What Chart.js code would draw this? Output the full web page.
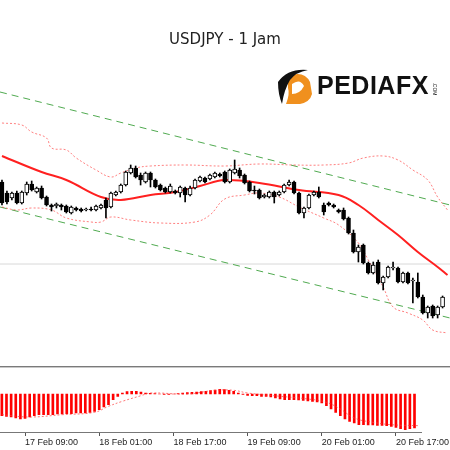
<!DOCTYPE html>
<html>
<head>
<meta charset="utf-8">
<script src="https://cdn.jsdelivr.net/npm/chart.js@4"></script>
<style>
  html, body { margin: 0; padding: 0; background: #fff; }
  #wrap { position: relative; width: 450px; height: 450px; overflow: hidden; }
  #mainBox { position: absolute; left: 0; top: 0; width: 450px; height: 366px; }
  #macdBox { position: absolute; left: 0; top: 368px; width: 450px; height: 82px; }
  #sep1 { position: absolute; left: 0; top: 366px; width: 450px; height: 1px; background: #7a7a7a; }
  #sep2 { position: absolute; left: 0; top: 367px; width: 450px; height: 1px; background: #c8c8c8; }
  #title { position: absolute; top: 30px; left: 0; width: 450px; text-align: center;
           font: 15px "DejaVu Sans", sans-serif; color: #222; }
  #logo { position: absolute; left: 274px; top: 64px; }
  #logoText { position: absolute; left: 317px; top: 71px; font: bold 25px "Liberation Sans", sans-serif; color: #111; letter-spacing: 0.5px; }
  #logoCom { position: absolute; left: 428px; top: 86px; font: 5px "Liberation Sans", sans-serif; color: #111; transform: rotate(90deg); }
</style>
</head>
<body>
<div id="wrap">
  <div id="mainBox"><canvas id="mainChart"></canvas></div>
  <div id="sep1"></div><div id="sep2"></div>
  <div id="macdBox"><canvas id="macdChart"></canvas></div>
  <div id="title">USDJPY - 1 Jam</div>
  <svg id="logo" width="42" height="42" viewBox="0 0 42 42">
    <path d="M14 12 Q30 6 36 18 L38 30 Q36 38 26 40 L12 40 Q16 30 14 24 Z" fill="#f0901e"/>
    <path d="M4 18 Q14 4 34 6 Q22 8 16 16 Q10 26 8 40 Q4 30 4 18 Z" fill="#111"/>
    <path d="M18 20 Q26 14 30 22 Q26 30 18 30 Z" fill="#fff"/>
  </svg>
  <div id="logoText">PEDIAFX</div>
  <div id="logoCom">.COM</div>
</div>
<script>
// hourly candles, index 0 = 17 Feb 04:00
const opens = [102.09,102.035,102.01,102.035,101.985,102.035,102.08,102.04,102.06,102.015,
  101.975,101.97,101.975,101.97,101.935,101.96,101.955,101.95,101.955,101.95,
  101.96,102.00,101.965,102.025,102.04,102.075,102.135,102.16,102.125,102.09,
  102.135,102.10,102.075,102.06,102.04,102.045,102.035,102.06,102.025,102.06,
  102.095,102.11,102.105,102.115,102.13,102.14,102.09,102.135,102.15,102.125,
  102.09,102.05,102.05,102.015,102.015,102.04,102.025,102.04,102.075,102.09,
  102.035,101.935,101.96,102.025,102.04,101.975,101.985,101.975,101.95,101.95,
  101.91,101.835,101.74,101.775,101.685,101.635,101.69,101.585,101.615,101.66,
  101.66,101.59,101.635,101.595,101.59,101.515,101.435,101.47,101.425,101.465];
const highs = [102.10,102.045,102.04,102.045,102.045,102.09,102.095,102.065,102.07,102.02,
  101.98,101.985,101.98,101.975,101.97,101.965,101.96,101.96,101.965,101.975,
  101.98,102.01,102.04,102.045,102.08,102.145,102.175,102.17,102.135,102.14,
  102.14,102.105,102.08,102.065,102.08,102.05,102.07,102.065,102.07,102.105,
  102.12,102.115,102.13,102.14,102.135,102.145,102.155,102.20,102.16,102.13,
  102.095,102.07,102.055,102.03,102.045,102.045,102.045,102.08,102.10,102.095,
  102.04,101.965,102.03,102.045,102.065,101.985,101.99,101.98,101.955,101.96,
  101.915,101.85,101.775,101.78,101.69,101.69,101.70,101.62,101.67,101.69,
  101.665,101.64,101.64,101.61,101.635,101.525,101.47,101.475,101.47,101.52];
const lows = [101.975,101.98,102.00,101.98,101.98,102.025,102.045,102.035,102.005,101.97,
  101.945,101.96,101.95,101.935,101.93,101.945,101.94,101.945,101.945,101.945,
  101.955,101.91,101.96,102.02,102.035,102.07,102.13,102.11,102.075,102.085,
  102.065,102.06,102.045,102.035,102.035,102.03,102.015,101.99,102.02,102.055,
  102.09,102.085,102.10,102.11,102.115,102.085,102.085,102.13,102.11,102.08,
  102.04,102.03,102.005,102.01,102.01,101.985,102.02,102.035,102.07,102.03,
  101.93,101.91,101.955,102.02,102.01,101.925,101.97,101.96,101.935,101.90,
  101.83,101.735,101.69,101.68,101.63,101.63,101.58,101.55,101.61,101.65,
  101.585,101.585,101.58,101.485,101.51,101.43,101.41,101.41,101.41,101.46];
const closes = [101.985,101.99,102.035,101.985,102.04,102.08,102.05,102.06,102.01,101.975,
  101.965,101.98,101.965,101.94,101.965,101.95,101.945,101.955,101.95,101.97,
  101.975,101.96,102.035,102.04,102.075,102.14,102.16,102.115,102.10,102.135,
  102.10,102.065,102.05,102.04,102.07,102.035,102.065,102.025,102.06,102.10,
  102.115,102.09,102.125,102.135,102.12,102.09,102.15,102.155,102.12,102.085,
  102.045,102.045,102.01,102.025,102.04,102.015,102.04,102.075,102.09,102.035,
  101.935,101.96,102.025,102.04,102.015,101.94,101.975,101.965,101.94,101.905,
  101.835,101.74,101.765,101.685,101.635,101.675,101.585,101.615,101.665,101.665,
  101.59,101.635,101.585,101.60,101.515,101.435,101.465,101.42,101.465,101.515];

// indicators (sampled at candle indices)
const maIdx = [0,8,13,20,24,30,35,40,45,52,60,68,72,76,80,84,88,90];
const maVal = [102.22,102.14,102.10,102.015,102.00,102.025,102.04,102.07,102.10,102.085,102.05,102.025,101.975,101.90,101.825,101.74,101.665,101.625];
const bbUpIdx = [0,4,6,9,10,13,15,19,22,24,27,30,37,45,52,59,65,70,73,77,80,83,86,88,90];
const bbUpVal = [102.385,102.375,102.34,102.31,102.26,102.25,102.21,102.15,102.115,102.135,102.16,102.17,102.175,102.17,102.18,102.175,102.175,102.185,102.21,102.22,102.20,102.15,102.10,102.015,101.95];
const bbLoIdx = [0,3,6,10,13,18,20,22,26,32,39,42,45,49,52,56,60,65,68,72,74,77,79,82,85,87,90];
const bbLoVal = [101.965,101.95,101.96,101.95,101.91,101.89,101.89,101.915,101.90,101.885,101.89,101.925,102.005,102.025,102.035,102.015,101.965,101.91,101.875,101.785,101.70,101.565,101.465,101.435,101.40,101.35,101.335];
const chanUpper = [102.54, 101.975];
const chanLower = [101.965, 101.41];
const chanIdx = [-0.4, 90.5];
const refLevel = 101.68;

// MACD (x0.001)
const macdHist = [-21.7,-22.3,-23,-24,-25,-24.3,-23,-21.7,-20.7,-20.7,
  -20.7,-20.7,-20,-20,-19.7,-19.7,-19,-19,-19,-18.3,
  -17.3,-15.7,-13,-10.7,-5.7,-2.3,1,2.3,2.7,2.7,
  2,1,0.7,0.3,0,-0.3,-0.3,0,0.3,1,
  1.3,1.7,2,2.3,2.7,3.3,4,4.7,4.3,3.7,
  2.7,1,-0.3,-1.3,-1.7,-1.7,-2.3,-2.3,-3,-4,
  -5,-5.7,-5.7,-5.7,-6,-6.3,-7,-7.3,-8,-9,
  -11.7,-15,-18.3,-21.7,-25,-27.3,-29,-30.7,-30.7,-31,
  -31,-31.3,-31.3,-31.7,-32.3,-33.3,-34.7,-35.7,-34.7,-34];
const sigIdx = [0,6,13,20,23,26,30,32,40,46,50,53,60,66,70,73,76,80,84,90];
const sigVal = [-20.7,-23,-20.7,-18.3,-12.3,-7.3,-1.7,1,0,3.7,3.7,1,-2.3,-5,-8.3,-15,-24,-28.3,-30.7,-31.7];

const tickIdx = [5,21,37,53,69,85];
const tickLabels = ['17 Feb 09:00','18 Feb 01:00','18 Feb 17:00','19 Feb 09:00','20 Feb 01:00','20 Feb 17:00'];

const xMin = -0.4, xMax = 90.5;
const pts = (idx, val) => idx.map((x, k) => ({x: x, y: val[k]}));
const idxs = opens.map((_, i) => i);

new Chart(document.getElementById('mainChart'), {
    type: 'bar',
    data: {
        datasets: [
            {
                label: 'bodies', order: 0, grouped: false,
                data: idxs.map(i => ({x: i, y: [opens[i], closes[i]]})),
                backgroundColor: idxs.map(i => closes[i] < opens[i] ? '#000' : '#fff'),
                borderColor: '#000', borderWidth: 1, borderSkipped: false,
                barThickness: 4
            },
            {
                label: 'wicks', order: 1, grouped: false,
                data: idxs.map(i => ({x: i, y: [lows[i], highs[i]]})),
                backgroundColor: '#000', barThickness: 1
            },
            {
                type: 'line', label: 'ma', order: 2,
                data: pts(maIdx, maVal),
                borderColor: '#ff2020', borderWidth: 2, pointRadius: 0, tension: 0.4
            },
            {
                type: 'line', label: 'bbUp', order: 3,
                data: pts(bbUpIdx, bbUpVal),
                borderColor: 'rgba(255,60,60,0.65)', borderWidth: 1, borderDash: [2, 2], pointRadius: 0, tension: 0.4
            },
            {
                type: 'line', label: 'bbLo', order: 3,
                data: pts(bbLoIdx, bbLoVal),
                borderColor: 'rgba(255,60,60,0.65)', borderWidth: 1, borderDash: [2, 2], pointRadius: 0, tension: 0.4
            },
            {
                type: 'line', label: 'chanUp', order: 4,
                data: pts(chanIdx, chanUpper),
                borderColor: 'rgb(80,170,80)', borderWidth: 1, borderDash: [7, 5], pointRadius: 0
            },
            {
                type: 'line', label: 'chanLo', order: 4,
                data: pts(chanIdx, chanLower),
                borderColor: 'rgb(80,170,80)', borderWidth: 1, borderDash: [7, 5], pointRadius: 0
            },
            {
                type: 'line', label: 'level', order: 5,
                data: pts(chanIdx, [refLevel, refLevel]),
                borderColor: '#d8d8d8', borderWidth: 1, pointRadius: 0
            }
        ]
    },
    options: {
        responsive: true,
        maintainAspectRatio: false,
        animation: false,
        events: [],
        layout: { padding: 0 },
        plugins: { legend: { display: false }, tooltip: { enabled: false } },
        scales: {
            x: { type: 'linear', min: xMin, max: xMax, offset: false, display: false },
            y: { min: 101.17, max: 103.0, display: false }
        }
    }
});

new Chart(document.getElementById('macdChart'), {
    type: 'bar',
    data: {
        datasets: [
            {
                label: 'hist', order: 1,
                data: idxs.map(i => ({x: i, y: macdHist[i]})),
                backgroundColor: '#ff0000', barThickness: 2
            },
            {
                type: 'line', label: 'signal', order: 0,
                data: pts(sigIdx, sigVal),
                borderColor: 'rgba(255,60,60,0.7)', borderWidth: 1, borderDash: [2, 2], pointRadius: 0, tension: 0.4
            }
        ]
    },
    options: {
        responsive: true,
        maintainAspectRatio: false,
        animation: false,
        events: [],
        layout: { padding: 0 },
        plugins: { legend: { display: false }, tooltip: { enabled: false } },
        scales: {
            x: {
                type: 'linear', min: xMin, max: xMax, offset: false,
                afterBuildTicks: (scale) => { scale.ticks = tickIdx.map(v => ({value: v})); },
                afterFit: (scale) => { scale.height = 18; },
                ticks: {
                    autoSkip: false, maxRotation: 0, align: 'start', padding: 1,
                    color: '#222', font: { family: 'Liberation Sans', size: 9 },
                    callback: (v) => tickLabels[tickIdx.indexOf(v)]
                },
                grid: { drawOnChartArea: false, offset: false, tickLength: 4, color: '#555' },
                border: { color: '#777', width: 1 }
            },
            y: { min: -38, max: 26, display: false }
        }
    }
});
</script>
</body>
</html>
